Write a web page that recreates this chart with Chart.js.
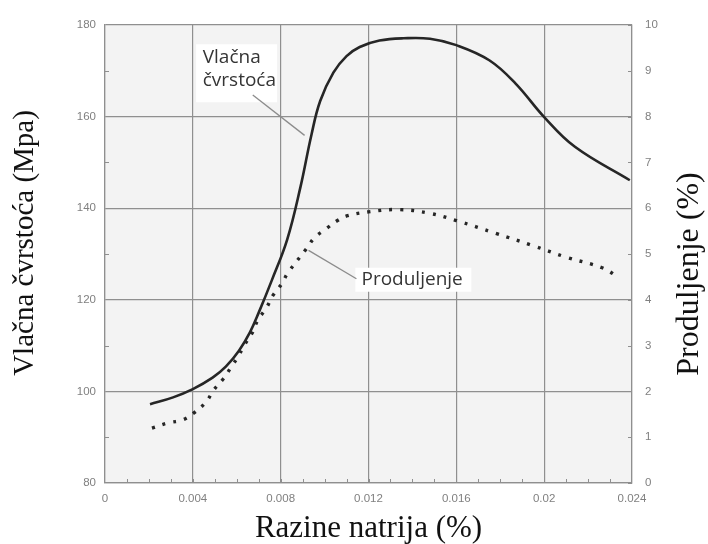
<!DOCTYPE html>
<html>
<head>
<meta charset="utf-8">
<script src="https://cdn.jsdelivr.net/npm/chart.js@4.4.1/dist/chart.umd.min.js"></script>
<style>
  html, body { margin: 0; padding: 0; background: #fff; }
</style>
</head>
<body>
<canvas id="graf" width="708" height="544"></canvas>
<script>
// Vlačna čvrstoća (lijeva os, MPa)
const natrijCvrstoca = [0.00205, 0.0031, 0.0040, 0.0049, 0.0055, 0.0061, 0.0066, 0.0070, 0.0076, 0.0083, 0.0089, 0.0094, 0.0098, 0.0104, 0.0110, 0.0116, 0.0125, 0.0136, 0.0148, 0.0160, 0.0175, 0.0187, 0.0200, 0.0214, 0.0239];
const cvrstoca       = [97.2, 98.7, 100.5, 103.0, 105.4, 108.9, 112.9, 117.2, 124.3, 133.2, 144.6, 156.0, 163.4, 169.6, 173.2, 175.2, 176.6, 177.1, 177.0, 175.6, 172.3, 167.2, 159.9, 153.4, 146.1];

// Produljenje (desna os, %)
const natrijProduljenje = [0.00214, 0.00286, 0.00355, 0.00405, 0.0046, 0.00495, 0.0054, 0.00573, 0.00605, 0.00636, 0.00673, 0.00695, 0.00736, 0.00764, 0.00805, 0.00832, 0.00918, 0.00955, 0.0101, 0.01055, 0.011, 0.012, 0.0134, 0.01477, 0.016, 0.0178, 0.01945, 0.021, 0.02264, 0.0234];
const produljenje       = [1.2, 1.31, 1.38, 1.53, 1.77, 2.03, 2.28, 2.52, 2.75, 3.02, 3.3, 3.55, 3.83, 4.09, 4.35, 4.58, 5.12, 5.36, 5.56, 5.72, 5.83, 5.92, 5.97, 5.89, 5.73, 5.45, 5.19, 4.93, 4.7, 4.49];

const xTicks      = [0, 0.004, 0.008, 0.012, 0.016, 0.02, 0.024];
const xTickLabels = ['0', '0.004', '0.008', '0.012', '0.016', '0.02', '0.024'];
const yLijeviTicks = [80, 100, 120, 140, 160, 180];
const yDesniTicks  = [0, 1, 2, 3, 4, 5, 6, 7, 8, 9, 10];

const sivaMreza = '#8f8f8f';
const sivaOznaka = '#808080';
const crta = '#262626';

// pozadina područja grafa
const pozadina = {
  id: 'pozadina',
  beforeDraw(chart) {
    const { ctx, chartArea: a } = chart;
    ctx.save();
    ctx.fillStyle = '#f3f3f3';
    ctx.fillRect(a.left, a.top, a.right - a.left, a.bottom - a.top);
    ctx.restore();
  }
};

// sitne unutarnje crtice na osima
const crtice = {
  id: 'crtice',
  beforeDatasetsDraw(chart) {
    const { ctx, chartArea: a, scales } = chart;
    ctx.save();
    ctx.strokeStyle = sivaMreza;
    ctx.lineWidth = 1;
    ctx.beginPath();
    for (let v = 0.001; v < 0.024; v += 0.001) {
      const px = Math.round(scales.x.getPixelForValue(v)) + 0.5;
      ctx.moveTo(px, a.bottom); ctx.lineTo(px, a.bottom - 4);
    }
    for (let v = 90; v < 180; v += 20) {
      const py = Math.round(scales.y.getPixelForValue(v)) + 0.5;
      ctx.moveTo(a.left, py); ctx.lineTo(a.left + 4, py);
    }
    yDesniTicks.forEach(v => {
      const py = Math.round(scales.y1.getPixelForValue(v)) + 0.5;
      ctx.moveTo(a.right, py); ctx.lineTo(a.right - 4, py);
    });
    ctx.stroke();
    ctx.restore();
  }
};

// natpisi krivulja i naslovi okomitih osi
const natpisi = {
  id: 'natpisi',
  afterDraw(chart) {
    const { ctx, scales } = chart;
    const x = scales.x, y = scales.y, y1 = scales.y1;
    ctx.save();

    // Vlačna čvrstoća
    ctx.fillStyle = '#ffffff';
    ctx.fillRect(x.getPixelForValue(0.00415), y.getPixelForValue(175.8), 81, 58);
    ctx.strokeStyle = '#8c8c8c';
    ctx.lineWidth = 1.3;
    ctx.beginPath();
    ctx.moveTo(x.getPixelForValue(0.00673), y.getPixelForValue(164.7));
    ctx.lineTo(x.getPixelForValue(0.00909), y.getPixelForValue(155.9));
    ctx.stroke();
    ctx.fillStyle = '#353535';
    ctx.font = '19px "Open Sans"';
    ctx.textBaseline = 'alphabetic';
    ctx.textAlign = 'left';
    ctx.fillText('Vlačna', x.getPixelForValue(0.00445), y.getPixelForValue(171.7));
    ctx.fillText('čvrstoća', x.getPixelForValue(0.00445), y.getPixelForValue(166.7));

    // Produljenje
    ctx.fillStyle = '#ffffff';
    ctx.fillRect(x.getPixelForValue(0.0114), y1.getPixelForValue(4.7), 116, 24);
    ctx.beginPath();
    ctx.moveTo(x.getPixelForValue(0.00927), y1.getPixelForValue(5.08));
    ctx.lineTo(x.getPixelForValue(0.01145), y1.getPixelForValue(4.46));
    ctx.stroke();
    ctx.fillStyle = '#353535';
    ctx.fillText('Produljenje', x.getPixelForValue(0.01168), y1.getPixelForValue(4.33));

    ctx.fillStyle = '#111';
    ctx.textAlign = 'center';
    ctx.textBaseline = 'middle';

    // lijevi naslov osi
    ctx.save();
    ctx.translate(25, 243);
    ctx.rotate(-Math.PI / 2);
    ctx.font = '29px "Liberation Serif"';
    ctx.fillText('Vlačna čvrstoća (Mpa)', 0, 0);
    ctx.restore();

    // desni naslov osi
    ctx.translate(690, 274);
    ctx.rotate(-Math.PI / 2);
    ctx.font = '32px "Liberation Serif"';
    ctx.fillText('Produljenje (%)', 0, 0);
    ctx.restore();
  }
};

const fontOznaka = { family: '"Liberation Sans"', size: 11.5 };

new Chart(document.getElementById('graf'), {
  type: 'line',
  data: {
    datasets: [
      {
        label: 'Vlačna čvrstoća',
        data: natrijCvrstoca.map((n, i) => ({ x: n, y: cvrstoca[i] })),
        yAxisID: 'y',
        borderColor: crta,
        borderWidth: 2.6,
        pointRadius: 0,
        tension: 0.4
      },
      {
        label: 'Produljenje',
        data: natrijProduljenje.map((n, i) => ({ x: n, y: produljenje[i] })),
        yAxisID: 'y1',
        borderColor: crta,
        borderWidth: 3.4,
        borderDash: [3, 8],
        pointRadius: 0,
        tension: 0.4
      }
    ]
  },
  options: {
    responsive: false,
    animation: false,
    layout: { padding: { top: 25, left: 0, right: 0, bottom: 0 } },
    plugins: { legend: { display: false }, tooltip: { enabled: false } },
    scales: {
      x: {
        type: 'linear', min: 0, max: 0.024,
        afterBuildTicks: s => { s.ticks = xTicks.map(v => ({ value: v })); },
        ticks: { color: sivaOznaka, font: fontOznaka, padding: 9, maxRotation: 0,
                 callback: (v, i) => xTickLabels[i] },
        grid: { color: sivaMreza, lineWidth: 1.2, drawTicks: false },
        border: { color: sivaMreza, width: 1.2 },
        title: { display: true, text: 'Razine natrija (%)', color: '#111',
                 font: { family: '"Liberation Serif"', size: 31, lineHeight: 1 }, padding: 0 },
        afterFit: s => { s.height = 61; }
      },
      y: {
        position: 'left', min: 80, max: 180,
        afterBuildTicks: s => { s.ticks = yLijeviTicks.map(v => ({ value: v })); },
        ticks: { color: sivaOznaka, font: fontOznaka, padding: 9 },
        grid: { color: sivaMreza, lineWidth: 1.2, drawTicks: false },
        border: { color: sivaMreza, width: 1.2 },
        afterFit: s => { s.width = 105; }
      },
      y1: {
        position: 'right', min: 0, max: 10,
        afterBuildTicks: s => { s.ticks = yDesniTicks.map(v => ({ value: v })); },
        ticks: { color: sivaOznaka, font: fontOznaka, padding: 13 },
        grid: { drawOnChartArea: false, drawTicks: false },
        border: { color: sivaMreza, width: 1.2 },
        afterFit: s => { s.width = 76; }
      }
    }
  },
  plugins: [pozadina, crtice, natpisi]
});
</script>
</body>
</html>
